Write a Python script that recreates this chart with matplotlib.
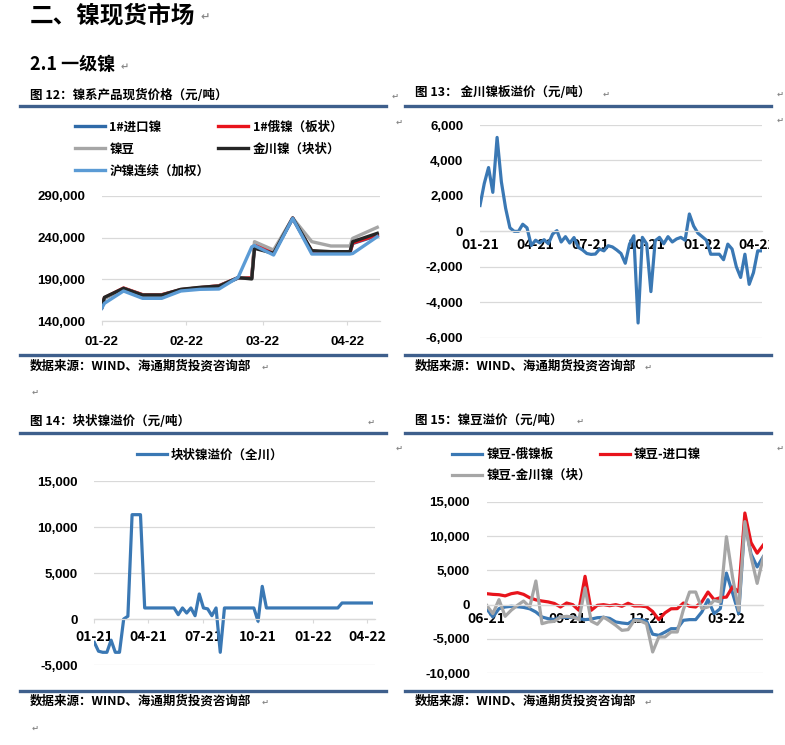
import matplotlib
matplotlib.use('Agg')
import matplotlib.pyplot as plt
import pandas as pd
from matplotlib.lines import Line2D
from matplotlib.transforms import Bbox, TransformedBbox

plt.rcParams['font.family'] = ['Noto Sans CJK SC', 'DejaVu Sans']
plt.rcParams['font.weight'] = 'bold'

W, H = 785, 745
RULE = '#3e5f8c'
GRID = '#d9d9d9'
NUM_FONT = 'Liberation Sans'

# ---- 图12 镍系产品现货价格 ----
spot_dates = ['2022-01-01', '2022-01-02', '2022-01-09', '2022-01-16', '2022-01-23', '2022-01-30',
              '2022-02-06', '2022-02-13', '2022-02-20', '2022-02-25', '2022-02-26', '2022-03-05',
              '2022-03-12', '2022-03-19', '2022-03-26', '2022-04-02', '2022-04-03', '2022-04-12']
import_ni = [155500, 167000, 179000, 171000, 171000, 177000, 179500, 181500, 191500, 191500,
             231000, 221500, 263000, 223000, 222000, 222000, 233000, 242500]
ru_ni = [156000, 167800, 179600, 171600, 171600, 177600, 180000, 182400, 192000, 192000,
         232000, 222000, 263600, 223600, 222400, 222400, 233600, 243200]
ni_bean = [155500, 167000, 179000, 171000, 171000, 177600, 180000, 182000, 192000, 191000,
           235200, 225200, 263600, 235200, 230000, 230000, 239200, 252400]
jc_ni = [156000, 168400, 179200, 171200, 171200, 178000, 180400, 182000, 192000, 190500,
         227200, 221200, 263600, 224400, 223200, 223200, 235200, 245200]
shfe_ni = [155200, 161200, 176000, 167200, 167200, 176000, 178000, 178400, 192400, 229000,
           230500, 219200, 263200, 220400, 220400, 220400, 221000, 241200]
spot_ticks = ['2022-01-01', '2022-02-01', '2022-03-01', '2022-04-01']
spot_labels = ['01-22', '02-22', '03-22', '04-22']

# ---- 图13 金川镍板溢价 (周度, 2021-01 起) ----
plate_prem = [1460, 2700, 3600, 2200, 5300, 2800, 1300, 200, 0, 0, 400, 200, -800, -500, -650,
              -470, -700, -150, 40, -600, -300, -660, -350, -900, -1050, -1250, -1300, -1280,
              -1000, -1100, -810, -880, -1050, -1250, -1800, -720, -250, -5170, -340, -700,
              -3400, -530, -340, -700, -300, -600, -430, -340, -500, 980, 300, -100, -300, -500,
              -1290, -1290, -1290, -1600, -720, -1000, -2000, -2600, -1290, -2990, -2330,
              -1100, -1100]

# ---- 图14 块状镍溢价 (周度, 2021-01 起) ----
lump_prem = ([-2540, -3500, -3620, -3620, -2300, -3620, -3620, 0, 300, 11340, 11340, 11340]
             + [1200] * 8 + [470, 1200, 650, 1200, 360, 2720, 1200, 1100, 360, 1200, -3620]
             + [1200] * 8 + [-250, 3550] + [1200] * 18 + [1740] * 8)
prem_ticks = ['2021-01-01', '2021-04-01', '2021-07-01', '2021-10-01', '2022-01-01', '2022-04-01']
prem_labels = ['01-21', '04-21', '07-21', '10-21', '01-22', '04-22']

# ---- 图15 镍豆溢价 (周度, 2021-06 起) ----
bean_vs_ru = [-580, -1800, -580, -340, -240, -300, -400, -600, -1070, -1800, -2040, -2180,
              -1800, -1900, -1800, -2040, -2180, -2100, -1900, -1850, -2000, -2520, -2670,
              -2770, -2180, -2180, -2380, -4300, -4470, -4000, -3500, -3500, -2280, -2180,
              -2180, -1070, 730, -1310, -580, 4600, 1700, -1300, 12000, 7400, 5500, 7000]
bean_vs_import = [1600, 1500, 1450, 1280, 1600, 1750, 1500, 1000, 700, 530, 400, 180, -340, 240,
                  0, -820, 4130, -820, -100, 0, -150, 0, -240, 200, -190, -190, -300, -1000,
                  -2180, -1200, -600, -580, 240, -240, -340, 400, 1840, 730, 1020, 1100, 2600,
                  1850, 13350, 9050, 7500, 8700]
bean_vs_jc = [-100, -1310, 730, -1700, -800, -100, 530, -340, 3450, -2770, -2520, -2430, -1800,
              -1700, -1800, -2180, 2430, -2400, -2860, -1800, -2380, -3010, -3740, -3640, -2280,
              -2380, -2770, -6890, -4710, -4710, -3980, -3980, -730, 1840, 1840, -580, -340, 630,
              390, 9900, 4000, -840, 12100, 7000, 3100, 6940]
bean_ticks = ['2021-06-01', '2021-09-01', '2021-12-01', '2022-03-01']
bean_labels = ['06-21', '09-21', '12-21', '03-22']

fig = plt.figure(figsize=(W / 100, H / 100), dpi=100)


def px_axes(x0, y0, x1, y1):
    return fig.add_axes([x0 / W, 1 - y1 / H, (x1 - x0) / W, (y1 - y0) / H])


def px_text(x, y, s, size, color='black', ha='left', **kw):
    fig.text(x / W, 1 - y / H, s, fontsize=size, color=color, ha=ha, va='center',
             fontweight='bold', **kw)


def rule(x0, x1, y):
    fig.add_artist(Line2D([x0 / W, x1 / W], [1 - y / H, 1 - y / H], color=RULE, lw=2.4))


def style(ax, lo, hi, step, zero_axis, ticks, labels, xlim, tickmarks):
    ax.set_ylim(lo, hi)
    ax.set_yticks(range(lo, hi + 1, step))
    ax.set_yticklabels([f'{v:,}' for v in range(lo, hi + 1, step)], fontfamily=NUM_FONT,
                       fontsize=9.5, fontweight='bold')
    ax.set_xticks(pd.to_datetime(ticks))
    ax.set_xticklabels(labels, fontfamily=NUM_FONT, fontsize=9.5, fontweight='bold')
    ax.set_xlim(pd.to_datetime(xlim[0]), pd.to_datetime(xlim[1]))
    ax.grid(axis='y', color=GRID, lw=0.9)
    ax.set_axisbelow(True)
    for s in ['left', 'right', 'top']:
        ax.spines[s].set_visible(False)
    ax.spines['bottom'].set_color(GRID)
    ax.spines['bottom'].set_linewidth(0.9)
    if zero_axis:
        ax.spines['bottom'].set_position(('data', 0))
    ax.tick_params(axis='y', length=0, pad=12)
    ax.tick_params(axis='x', length=3 if tickmarks else 0, color=GRID,
                   pad=8 if not zero_axis else 5)
    ax.set_facecolor('none')


# ---- header ----
px_text(30, 15, '二、镍现货市场', 17)
px_text(200, 17, '↵', 8, color='#888888')
px_text(30, 65, '2.1 一级镍', 13)
px_text(121, 67, '↵', 7, color='#888888')

# ---- 图12 ----
px_text(30, 95, '图 12：镍系产品现货价格（元/吨）', 9)
px_text(392, 96, '↵', 6, color='#888888')
rule(20, 386, 106)
ax1 = px_axes(101.7, 196, 380, 321)
d1 = pd.to_datetime(spot_dates)
ax1.plot(d1, import_ni, color='#2f6aa8', lw=2.4, label='1#进口镍')
ax1.plot(d1, ru_ni, color='#e8141c', lw=2.4, label='1#俄镍（板状）')
ax1.plot(d1, ni_bean, color='#a6a6a6', lw=2.4, label='镍豆')
ax1.plot(d1, jc_ni, color='#262626', lw=2.4, label='金川镍（块状）')
ax1.plot(d1, shfe_ni, color='#5b9bd5', lw=2.4, label='沪镍连续（加权）')
style(ax1, 140000, 290000, 50000, False, spot_ticks, spot_labels,
      ('2022-01-01', '2022-04-13'), True)
h, l = ax1.get_legend_handles_labels()
order = [0, 2, 4, 1, 3]
ax1.legend([h[i] for i in order], [l[i] for i in order], ncol=2, frameon=False,
           loc='upper left', bbox_to_anchor=(75 / W, 1 - 120.5 / H), bbox_transform=fig.transFigure,
           fontsize=9, handlelength=2.4, handletextpad=0.35, columnspacing=0.7,
           labelspacing=0.72, borderaxespad=0, borderpad=0)
px_text(396, 122, '↵', 6, color='#888888')
rule(20, 386, 355)
px_text(30, 366, '数据来源：WIND、海通期货投资咨询部', 9)
px_text(262, 367, '↵', 6, color='#888888')
px_text(32, 392, '↵', 6, color='#888888')

# ---- 图13 ----
px_text(415, 93, '图 13： 金川镍板溢价（元/吨）', 9)
px_text(603, 94, '↵', 6, color='#888888')
px_text(777, 94, '↵', 6, color='#888888')
rule(405, 771, 106)
px_text(777, 120, '↵', 6, color='#888888')
ax2 = px_axes(480, 125, 762, 337.7)
d2 = pd.date_range('2021-01-01', periods=len(plate_prem), freq='7D')
ax2.plot(d2, plate_prem, color='#3a78b4', lw=2.3)
style(ax2, -6000, 6000, 2000, True, prem_ticks, prem_labels,
      ('2021-01-01', '2022-04-08'), False)
ax2.set_yticklabels([f'{v:,}' if v else '0' for v in range(-6000, 6001, 2000)],
                    fontfamily=NUM_FONT, fontsize=9.5, fontweight='bold')
fig.canvas.draw()
clip = TransformedBbox(Bbox([[0, 0], [769 / W, 1]]), fig.transFigure)
for t in ax2.get_xticklabels():
    t.set_clip_box(clip)
    t.set_clip_on(True)
rule(405, 771, 355)
px_text(415, 366, '数据来源：WIND、海通期货投资咨询部', 9)
px_text(645, 367, '↵', 6, color='#888888')

# ---- 图14 ----
px_text(30, 421, '图 14：块状镍溢价（元/吨）', 9)
px_text(368, 422, '↵', 6, color='#888888')
rule(20, 386, 433)
ax3 = px_axes(94.3, 481, 375, 665)
d3 = pd.date_range('2021-01-01', periods=len(lump_prem), freq='7D')
ax3.plot(d3, lump_prem, color='#3a78b4', lw=2.3, label='块状镍溢价（全川）')
style(ax3, -5000, 15000, 5000, True, prem_ticks, prem_labels,
      ('2021-01-01', '2022-04-14'), True)
ax3.legend(frameon=False, loc='center', bbox_to_anchor=(210 / W, 1 - 455 / H),
           bbox_transform=fig.transFigure, fontsize=9, handlelength=2.4, handletextpad=0.35)
px_text(396, 448, '↵', 6, color='#888888')
rule(20, 386, 691)
px_text(30, 701, '数据来源：WIND、海通期货投资咨询部', 9)
px_text(262, 702, '↵', 6, color='#888888')
px_text(32, 728, '↵', 6, color='#888888')

# ---- 图15 ----
px_text(415, 420, '图 15：镍豆溢价（元/吨）', 9)
px_text(577, 421, '↵', 6, color='#888888')
rule(405, 771, 433)
ax4 = px_axes(486.7, 501.7, 763.3, 673.3)
d4 = pd.date_range('2021-06-01', periods=len(bean_vs_ru), freq='7D')
ax4.plot(d4, bean_vs_ru, color='#3a78b4', lw=2.3, label='镍豆-俄镍板')
ax4.plot(d4, bean_vs_import, color='#e8141c', lw=2.3, label='镍豆-进口镍')
ax4.plot(d4, bean_vs_jc, color='#a6a6a6', lw=2.3, label='镍豆-金川镍（块）')
style(ax4, -10000, 15000, 5000, True, bean_ticks, bean_labels,
      ('2021-06-01', '2022-04-12'), False)
h, l = ax4.get_legend_handles_labels()
order = [0, 2, 1]
ax4.legend([h[i] for i in order], [l[i] for i in order], ncol=2, frameon=False,
           loc='upper left', bbox_to_anchor=(452 / W, 1 - 448 / H), bbox_transform=fig.transFigure,
           fontsize=9, handlelength=2.4, handletextpad=0.35, columnspacing=0.68,
           labelspacing=0.66, borderaxespad=0, borderpad=0)
px_text(777, 448, '↵', 6, color='#888888')
rule(405, 771, 691)
px_text(415, 701, '数据来源：WIND、海通期货投资咨询部', 9)
px_text(645, 702, '↵', 6, color='#888888')

fig.savefig('out.png', dpi=100)
